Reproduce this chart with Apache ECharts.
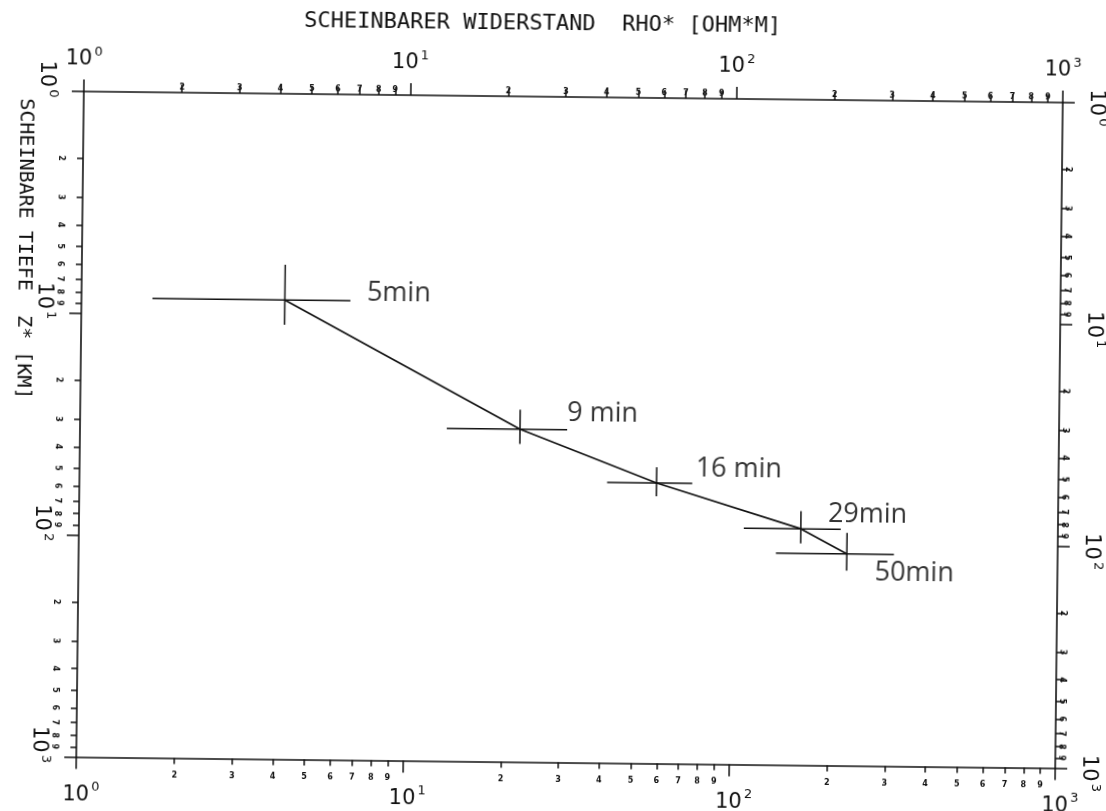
<!DOCTYPE html>
<html>
<head>
<meta charset="utf-8">
<script src="https://cdn.jsdelivr.net/npm/echarts@6/dist/echarts.min.js"></script>
<style>
  html, body { margin: 0; padding: 0; background: #ffffff; }
  #chart { width: 1106px; height: 811px; transform: rotate(0.65deg); transform-origin: 569px 431.5px; }
</style>
</head>
<body>
<div id="chart"></div>
<script>
// ---- data ----
const timeLabels = ['5min', '9 min', '16 min', '29min', '50min'];
const rho       = [4.20, 22.3, 58.7, 163, 226];     // apparent resistivity [Ohm*m]
const depth     = [8.5, 31.6, 54.4, 86.0, 111];     // apparent depth [km]
const rhoLow    = [1.65, 13.3, 41.4, 109, 137];
const rhoHigh   = [6.67, 31.1, 75.5, 216, 315];
const depthLow  = [5.9, 25.8, 46.2, 71.6, 89.2];
const depthHigh = [11.0, 36.9, 62.4, 100, 132];

// tick labels
const decadeValues    = [1, 10, 100, 1000];
const decadeExponents = ['0', '1', '2', '3'];
const minorDigits     = ['2', '3', '4', '5', '6', '7', '8', '9'];

const xTitle = 'SCHEINBARER WIDERSTAND  RHO* [OHM*M]';
const yTitle = 'SCHEINBARE TIEFE  Z* [KM]';

// label placement (style only)
const labelOffsets = [[82, -8], [47, -16], [39, -15], [27, -15], [28, 19]];

// ---- derived ----
const minorValues = [];
decadeValues.slice(0, 3).forEach(d => minorDigits.forEach(m => minorValues.push(d * Number(m))));

const INK = '#111111';
const lineStyle = { color: INK, width: 1.6 };
const richMajor = {
  b: { fontFamily: 'DejaVu Sans', fontSize: 21, color: INK, lineHeight: 28 },
  s: { fontFamily: 'DejaVu Sans', fontSize: 13, color: INK, lineHeight: 28, verticalAlign: 'top', padding: [0, 0, 0, 2] },
  p: { fontSize: 10, width: 24, lineHeight: 28 },
  q: { fontSize: 10, width: 10, lineHeight: 28 }
};
function expOf(v) {
  const i = decadeValues.findIndex(d => Math.abs(d - v) < 1e-6 * d);
  return i >= 0 ? decadeExponents[i] : '';
}
function majorFmt(v) { return '{b|10}{s|' + expOf(v) + '}'; }
function majorFmtTrail(v) { return '{b|10}{s|' + expOf(v) + '}{p| }'; }
function majorFmtLead(v) { return '{q| }{b|10}{s|' + expOf(v) + '}'; }
function minorFmt(v) {
  const e = Math.floor(Math.log10(v) + 1e-9);
  return String(Math.round(v / Math.pow(10, e)));
}

function makeAxis(position, major, opts) {
  const isY = position === 'left' || position === 'right';
  return {
    type: 'log', logBase: 10, min: 1, max: 1000, position: position,
    inverse: isY,
    splitLine: { show: false }, minorTick: { show: false },
    axisLine: { show: major, lineStyle: lineStyle },
    axisTick: { show: true, customValues: major ? decadeValues : minorValues, length: major ? 12 : (opts.tickLen || 5), lineStyle: { color: INK, width: 1.5 } },
    axisLabel: Object.assign({
      show: true,
      customValues: major ? decadeValues : minorValues,
      formatter: major ? (opts.fmt || majorFmt) : minorFmt,
      color: INK
    }, major ? { rich: richMajor } : { fontFamily: 'DejaVu Sans', fontSize: 8, fontWeight: 'bold' }, opts.label || {})
  };
}

const chart = echarts.init(document.getElementById('chart'), null, { renderer: 'canvas' });
const option = {
  backgroundColor: '#ffffff',
  animation: false,
  grid: { left: 80, top: 97, width: 979, height: 669, containLabel: false },
  graphic: [
    { type: 'text', x: 538, y: 24, style: { text: xTitle, fontFamily: 'DejaVu Sans Mono', fontSize: 22, fill: INK, align: 'center', verticalAlign: 'middle' } },
    { type: 'text', x: 22, y: 255, rotation: -Math.PI / 2, style: { text: yTitle, fontFamily: 'DejaVu Sans Mono', fontSize: 20, fill: INK, align: 'center', verticalAlign: 'middle' } }
  ],
  xAxis: [
    makeAxis('bottom', true, { fmt: majorFmtLead, label: { margin: 24, verticalAlign: 'top' } }),
    makeAxis('bottom', false, { tickLen: 6, label: { margin: 17, verticalAlign: 'middle' } }),
    makeAxis('top', true, { label: { margin: 18, verticalAlign: 'bottom' } }),
    makeAxis('top', false, { tickLen: 8, label: { margin: 5, verticalAlign: 'middle' } })
  ],
  yAxis: [
    makeAxis('left', true, { fmt: majorFmtTrail, label: { margin: 38, rotate: -90, align: 'center', verticalAlign: 'middle' } }),
    makeAxis('left', false, { tickLen: 6, label: { margin: 22, rotate: -90, align: 'center', verticalAlign: 'middle' } }),
    makeAxis('right', true, { fmt: majorFmtLead, label: { margin: 33, rotate: -90, align: 'center', verticalAlign: 'middle' } }),
    makeAxis('right', false, { tickLen: 8, label: { margin: 6, rotate: -90, align: 'center', verticalAlign: 'middle' } })
  ],
  series: [
    {
      type: 'custom',
      xAxisIndex: 0, yAxisIndex: 0,
      data: rho.map((r, i) => [r, depth[i], rhoLow[i], rhoHigh[i], depthLow[i], depthHigh[i]]),
      encode: { x: [0, 2, 3], y: [1, 4, 5] },
      renderItem: function (params, api) {
        const xl = api.coord([api.value(2), api.value(1)]);
        const xh = api.coord([api.value(3), api.value(1)]);
        const yl = api.coord([api.value(0), api.value(4)]);
        const yh = api.coord([api.value(0), api.value(5)]);
        const st = { stroke: INK, lineWidth: 1.5 };
        return {
          type: 'group',
          children: [
            { type: 'line', shape: { x1: xl[0], y1: xl[1], x2: xh[0], y2: xh[1] }, style: st },
            { type: 'line', shape: { x1: yl[0], y1: yl[1], x2: yh[0], y2: yh[1] }, style: st }
          ]
        };
      },
      silent: true, z: 3
    },
    {
      type: 'line',
      xAxisIndex: 0, yAxisIndex: 0,
      data: rho.map((r, i) => [r, depth[i]]),
      symbol: 'none',
      lineStyle: { color: INK, width: 1.7 },
      silent: true, z: 4
    },
    {
      type: 'scatter',
      xAxisIndex: 0, yAxisIndex: 0,
      symbolSize: 0,
      data: rho.map((r, i) => ({
        value: [r, depth[i]],
        label: { offset: labelOffsets[i] }
      })),
      label: {
        show: true, position: 'right', distance: 0,
        align: 'left', verticalAlign: 'middle',
        formatter: p => timeLabels[p.dataIndex],
        fontFamily: 'Open Sans', fontSize: 27, color: '#000000'
      },
      silent: true, z: 5
    }
  ]
};
chart.setOption(option);
</script>
</body>
</html>
